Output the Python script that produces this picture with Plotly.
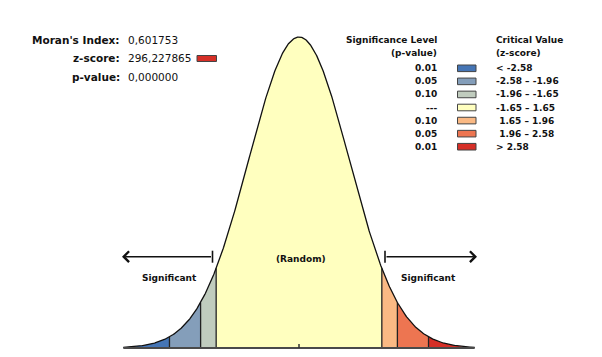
import numpy as np
import plotly.graph_objects as go

# ---- data ----
stat_labels = ["Moran's Index:", "z-score:", "p-value:"]
stat_values = ["0,601753", "296,227865", "0,000000"]
z_score_bin = 6  # index of the bin the z-score falls into (> 2.58)

critical_values = [-2.58, -1.96, -1.65, 1.65, 1.96, 2.58]
z_min, z_max = -3.5, 3.5
p_levels = ["0.01", "0.05", "0.10", "---", "0.10", "0.05", "0.01"]
z_ranges = ["< -2.58", "-2.58 \u2013 -1.96", "-1.96 \u2013 -1.65", "-1.65 \u2013 1.65",
            " 1.65 \u2013 1.96", " 1.96 \u2013 2.58", "> 2.58"]
bin_colors = ["#4575B5", "#849EBA", "#C0CCBE", "#FFFFBF", "#FAB984", "#ED7551", "#D62F27"]

W, H = 602, 357
CX, PXZ = 299, 50.2          # centre pixel and pixels per z unit
BASE, PEAK = 348, 37

def pdf(z):
    return np.exp(-0.5 * np.asarray(z) ** 2) / np.sqrt(2 * np.pi)

ppd = (BASE - PEAK) / pdf(0)   # pixels per density unit
xr = [(0 - CX) / PXZ, (W - CX) / PXZ]
yr = [(BASE - H) / ppd, BASE / ppd]

def px(x):
    return x / W
def py(y):
    return 1 - y / H

FONT = "DejaVu Sans"
TXT = "#111111"

fig = go.Figure()
edges = [z_min] + critical_values + [z_max]
for i, col in enumerate(bin_colors):
    a, b = edges[i], edges[i + 1]
    zz = np.linspace(a, b, 120)
    xs = np.concatenate([[a], zz, [b]])
    ys = np.concatenate([[0], pdf(zz), [0]])
    fig.add_trace(go.Scatter(x=xs, y=ys, fill="toself", fillcolor=col, mode="lines",
                             line=dict(width=0), hoverinfo="skip", showlegend=False))
for c in critical_values:
    fig.add_trace(go.Scatter(x=[c, c], y=[0, float(pdf(c))], mode="lines",
                             line=dict(color="#222222", width=1.3), hoverinfo="skip", showlegend=False))
zc = np.linspace(z_min, z_max, 600)
fig.add_trace(go.Scatter(x=zc, y=pdf(zc), mode="lines", line=dict(color="#111111", width=1.3),
                         hoverinfo="skip", showlegend=False))
fig.add_trace(go.Scatter(x=[z_min, z_max], y=[0, 0], mode="lines", line=dict(color="#4a4a4a", width=2.2),
                         hoverinfo="skip", showlegend=False))
fig.add_trace(go.Scatter(x=[0, 0], y=[0, 4 / ppd], mode="lines", line=dict(color="#333333", width=1.5),
                         hoverinfo="skip", showlegend=False))

ann = []
shapes = []
# stats block
for i, (lab_, val) in enumerate(zip(stat_labels, stat_values)):
    y = 40 + i * 18.3
    ann.append(dict(x=px(121.5), y=py(y), xref="paper", yref="paper", text="<b>%s</b>" % lab_,
                    xanchor="right", yanchor="middle", showarrow=False,
                    font=dict(family=FONT, size=10.5, color=TXT)))
    ann.append(dict(x=px(126), y=py(y), xref="paper", yref="paper", text=val,
                    xanchor="left", yanchor="middle", showarrow=False,
                    font=dict(family=FONT, size=10.5, color=TXT)))
shapes.append(dict(type="rect", xref="paper", yref="paper", x0=px(197), x1=px(216.5),
                   y0=py(55.5), y1=py(61.5), fillcolor=bin_colors[z_score_bin],
                   line=dict(color="#444444", width=1)))

# legend
LF = 9
def lab(x, y, t, anchor):
    ann.append(dict(x=px(x), y=py(y), xref="paper", yref="paper", text="<b>%s</b>" % t,
                    xanchor=anchor, yanchor="middle", showarrow=False,
                    font=dict(family=FONT, size=LF, color=TXT)))

lab(439, 40, "Significance Level", "right")
lab(439, 53.3, "(p-value)", "right")
lab(494, 40, "Critical Value", "left")
lab(494, 53.3, "(z-score)", "left")
for i, (p, r, col) in enumerate(zip(p_levels, z_ranges, bin_colors)):
    y = 68.3 + i * 13.07
    lab(439, y, p, "right")
    lab(494, y, r.replace(" ", "&nbsp;", 1) if r.startswith(" ") else r, "left")
    shapes.append(dict(type="rect", xref="paper", yref="paper", x0=px(457.5), x1=px(476),
                       y0=py(y - 3.3), y1=py(y + 3.3), fillcolor=col, line=dict(color="#444444", width=1)))

# arrows and region labels
AY = 256.7
for head, tail in ((122, 212.5), (477, 385)):
    ann.append(dict(x=px(head), y=py(AY), ax=tail - head, ay=0, xref="paper", yref="paper",
                    axref="pixel", ayref="pixel", text="", showarrow=True, arrowhead=4, arrowsize=1.3,
                    arrowwidth=1.6, arrowcolor="#111111"))
    shapes.append(dict(type="line", xref="paper", yref="paper", x0=px(tail), x1=px(tail),
                       y0=py(AY - 6), y1=py(AY + 6), line=dict(color="#111111", width=1.6)))
lab(169, 277.7, "Significant", "center")
lab(429, 277.7, "Significant", "center")
lab(301, 259, "(Random)", "center")

fig.update_layout(width=W, height=H, margin=dict(l=0, r=0, t=0, b=0),
                  paper_bgcolor="white", plot_bgcolor="white",
                  xaxis=dict(range=xr, visible=False, fixedrange=True),
                  yaxis=dict(range=yr, visible=False, fixedrange=True),
                  annotations=ann, shapes=shapes, showlegend=False)
fig.write_html("out.html", config={"displayModeBar": False},
               post_script="document.body.style.margin='0';document.body.style.overflow='hidden';")
